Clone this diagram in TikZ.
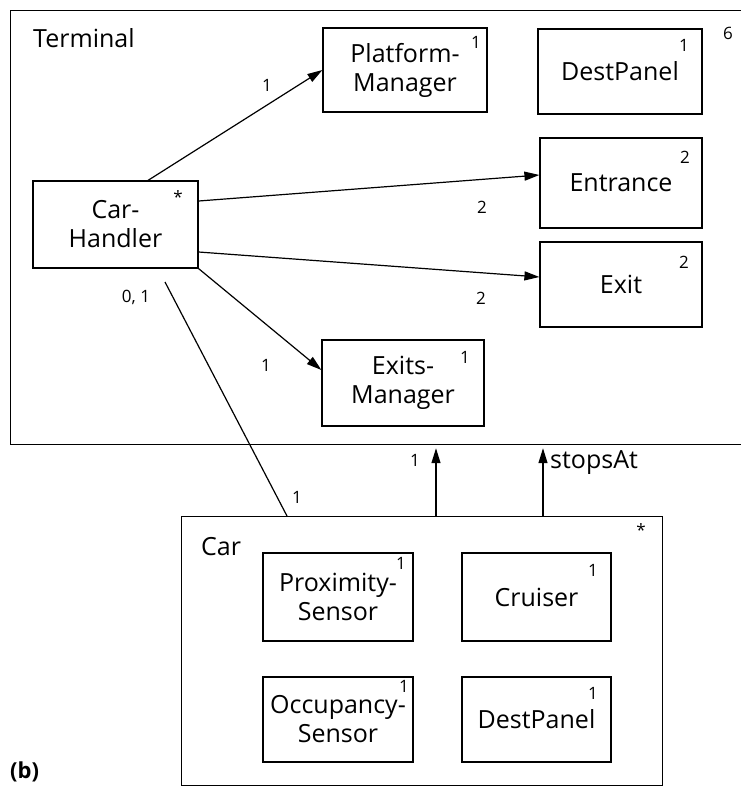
\documentclass[tikz,border=0pt]{standalone}
\usepackage{fontspec}
\setmainfont{Open Sans}
\usetikzlibrary{arrows.meta,calc}
\tikzset{
  box/.style={draw, line width=1.2pt, inner sep=0pt, align=center, font=\fontsize{25}{29}\selectfont},
  mult/.style={inner sep=0pt, font=\fontsize{17}{19}\selectfont},
  lbl/.style={inner sep=0pt, font=\fontsize{25}{29}\selectfont},
  conn/.style={line width=1.2pt},
  arr/.style={line width=1.2pt, -{Triangle[length=15pt,width=9pt]}}
}
\begin{document}
\begin{tikzpicture}[x=1pt,y=-1pt]
\useasboundingbox (0,0) rectangle (740,788);
% containers
\node[box, minimum width=745pt, minimum height=434pt, anchor=north west] (term) at (10,10) {};
\node[lbl, anchor=west] (termlbl) at (33,38) {Terminal};
\node[mult] (six) at (728,33) {6};
\node[box, minimum width=481pt, minimum height=269pt, anchor=north west] (car) at (181,516) {};
\node[lbl, anchor=west] (carlbl) at (201,547) {Car};
\node[mult] (carstar) at (641,530) {*};
% terminal parts
\node[box, minimum width=164pt, minimum height=84pt] (pm) at (405,70) {Platform-\\Manager};
\node[mult] (pmm) at (476,42) {1};
\node[box, minimum width=164pt, minimum height=85pt] (dp) at (620,71.5) {DestPanel};
\node[mult] (dpm) at (684,45) {1};
\node[box, minimum width=162pt, minimum height=90pt] (ent) at (621,183) {Entrance};
\node[mult] (entm) at (685,157) {2};
\node[box, minimum width=162pt, minimum height=85pt] (ex) at (621,284.5) {Exit};
\node[mult] (exm) at (684,262) {2};
\node[box, minimum width=165pt, minimum height=87pt] (ch) at (115.5,224.5) {Car-\\Handler};
\node[mult] (chm) at (178,197) {*};
\node[box, minimum width=162pt, minimum height=86pt] (em) at (403,383) {Exits-\\Manager};
\node[mult] (emm) at (465,357) {1};
% car parts
\node[box, minimum width=150pt, minimum height=88pt] (ps) at (338,597) {Proximity-\\Sensor};
\node[mult] (psm) at (401,563) {1};
\node[box, minimum width=149pt, minimum height=88pt] (cr) at (536.5,597) {Cruiser};
\node[mult] (crm) at (593,570) {1};
\node[box, minimum width=150pt, minimum height=85pt] (os) at (338,719.5) {Occupancy-\\Sensor};
\node[mult] (osm) at (404,686) {1};
\node[box, minimum width=149pt, minimum height=85pt] (dp2) at (536.5,719.5) {DestPanel};
\node[mult] (dp2m) at (593,693) {1};
% connectors
\draw[arr] ([xshift=32.5pt]ch.north) -- (pm.west);
\node[mult] (l1) at (267,85) {1};
\draw[arr] ([yshift=23.5pt]ch.east) -- ([yshift=8pt]ent.west);
\node[mult] (l2) at (482,207) {2};
\draw[arr] ([yshift=-27.5pt]ch.east) -- ([yshift=7.5pt]ex.west);
\node[mult] (l3) at (481,298) {2};
\draw[arr] (ch.south east) -- ([yshift=13pt]em.west);
\node[mult] (l4) at (266,365) {1};
\coordinate (chfree) at (165,282);
\draw[conn] (chfree) -- ([xshift=106pt]car.north west);
\node[mult] (l5) at (136,297) {0, 1};
\node[mult] (l6) at (297,497) {1};
\coordinate (up1) at ($(car.north west)+(255,0)$);
\coordinate (up2) at ($(car.north west)+(362,0)$);
\draw[arr, shorten >=3pt] (up1) -- (up1 |- term.south);
\draw[arr, shorten >=3pt] (up2) -- (up2 |- term.south);
\node[mult] (l7) at (415,460) {1};
\node[lbl, anchor=west] (stops) at (550,463) {stopsAt};
\node[inner sep=0pt, anchor=west, font=\fontsize{22}{26}\selectfont\bfseries] (b) at (10,772) {(b)};
\end{tikzpicture}
\end{document}
